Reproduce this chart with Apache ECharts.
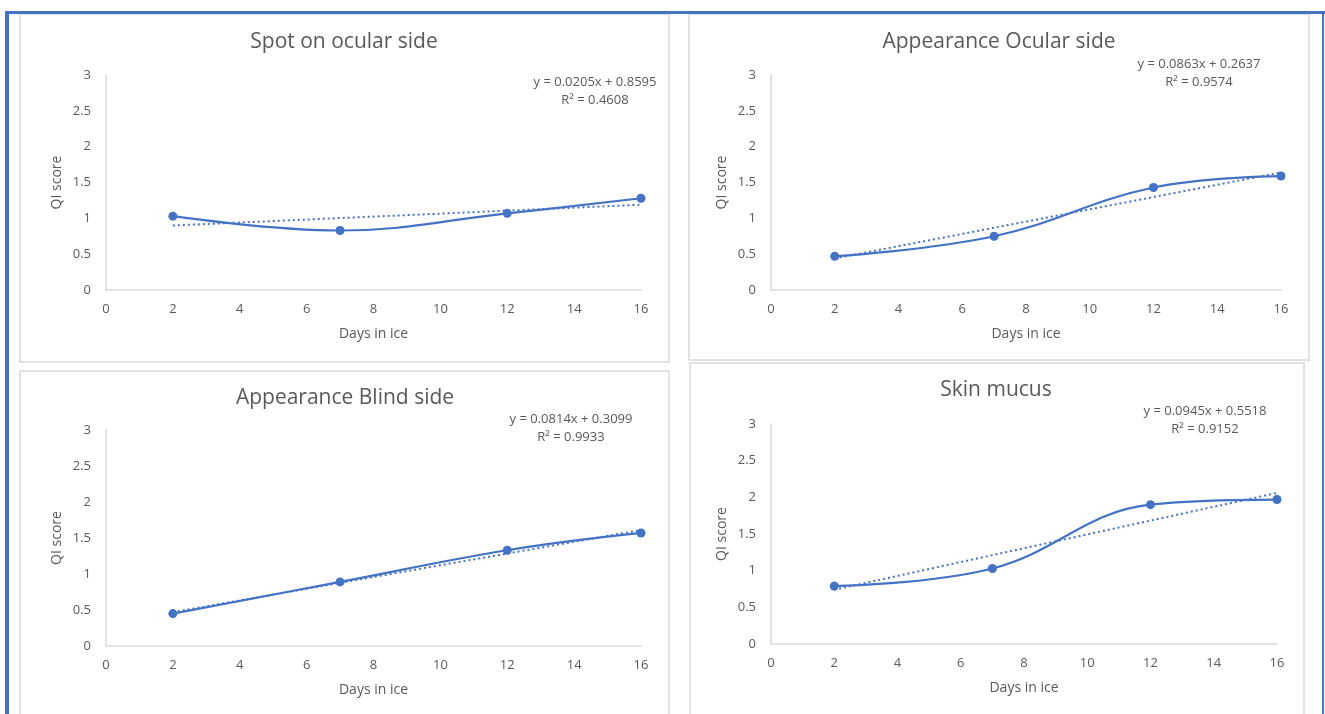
<!DOCTYPE html>
<html>
<head>
<meta charset="utf-8">
<script src="https://cdn.jsdelivr.net/npm/echarts@6/dist/echarts.min.js"></script>
<style>
html,body{margin:0;padding:0;background:#fff;}
#c{width:1325px;height:714px;}
</style>
</head>
<body>
<div id="c"></div>
<script>
// ---- data ----
const days = [2, 7, 12, 16];
const titles = ["Spot on ocular side", "Appearance Ocular side", "Appearance Blind side", "Skin mucus"];
const spotOcular = [1.03, 0.83, 1.07, 1.28];
const appearOcular = [0.47, 0.75, 1.43, 1.59];
const appearBlind = [0.45, 0.89, 1.33, 1.57];
const skinMucus = [0.79, 1.03, 1.90, 1.97];
const trendX = [2, 16];
const trendSpot = [0.90, 1.19];
const trendAppOcular = [0.44, 1.64];
const trendAppBlind = [0.47, 1.61];
const trendSkin = [0.74, 2.06];
const equations = ["y = 0.0205x + 0.8595", "y = 0.0863x + 0.2637", "y = 0.0814x + 0.3099", "y = 0.0945x + 0.5518"];
const r2 = ["R² = 0.4608", "R² = 0.9574", "R² = 0.9933", "R² = 0.9152"];
const xTitle = "Days in ice";
const yTitle = "QI score";

const seriesVals = [spotOcular, appearOcular, appearBlind, skinMucus];
const trendVals = [trendSpot, trendAppOcular, trendAppBlind, trendSkin];

// ---- layout ----
const panels = [
  {box:[20,14,649,348], grid:[106,75,535,215], title:[344,32], eq:[595,73]},
  {box:[689,14,620,346], grid:[771,75,510,215], title:[999,32], eq:[1199,55]},
  {box:[20,371,649,350], grid:[106,430,535,216], title:[345,388], eq:[571,410]},
  {box:[690,363,614,360], grid:[771,424,506,220], title:[996,380], eq:[1205,402]}
];

const FONT = "'Open Sans', 'Noto Sans', sans-serif";
const TXT = '#595959';
const BLUE = '#4472C4';

const option = {
  animation:false,
  backgroundColor:'#fff',
  title:[], grid:[], xAxis:[], yAxis:[], series:[], graphic:[]
};

// frame
option.graphic.push({type:'rect', shape:{x:5,y:11,width:4,height:703}, style:{fill:BLUE}, silent:true});
option.graphic.push({type:'rect', shape:{x:5,y:11,width:1320,height:3}, style:{fill:BLUE}, silent:true});
option.graphic.push({type:'rect', shape:{x:1322,y:11,width:2,height:703}, style:{fill:BLUE}, silent:true});

panels.forEach((p,i)=>{
  option.graphic.push({type:'rect', z:-1, shape:{x:p.box[0],y:p.box[1],width:p.box[2],height:p.box[3]},
    style:{fill:'#fff', stroke:'#d9d9d9', lineWidth:1.5}, silent:true});
  option.graphic.push({type:'text', x:p.title[0], y:p.title[1],
    style:{text:titles[i], fill:TXT, font:'21px '+FONT, textAlign:'center', textVerticalAlign:'top'}});
  option.graphic.push({type:'text', x:p.eq[0], y:p.eq[1],
    style:{text:equations[i]+'\n'+r2[i], fill:TXT, font:'13px '+FONT, textAlign:'center', textVerticalAlign:'top', lineHeight:18}});
  option.grid.push({left:p.grid[0], top:p.grid[1], width:p.grid[2], height:p.grid[3], containLabel:false});
  option.xAxis.push({type:'value', gridIndex:i, min:0, max:16, interval:2,
    name:xTitle, nameLocation:'middle', nameGap:37,
    nameTextStyle:{color:TXT, fontSize:14, fontFamily:FONT},
    axisLine:{show:true, lineStyle:{color:'#d9d9d9', width:1.5}},
    axisTick:{show:false}, splitLine:{show:false},
    axisLabel:{color:TXT, fontSize:13, fontFamily:FONT, margin:13}});
  option.yAxis.push({type:'value', gridIndex:i, min:0, max:3, interval:0.5,
    name:yTitle, nameLocation:'middle', nameGap:42,
    nameTextStyle:{color:TXT, fontSize:14, fontFamily:FONT},
    axisLine:{show:true, lineStyle:{color:'#d9d9d9', width:1.5}},
    axisTick:{show:false}, splitLine:{show:false},
    axisLabel:{color:TXT, fontSize:13, fontFamily:FONT, margin:15}});
  option.series.push({type:'line', xAxisIndex:i, yAxisIndex:i,
    data: trendX.map((x,k)=>[x, trendVals[i][k]]),
    symbol:'none', lineStyle:{color:BLUE, width:2, type:[2,3]}, z:2});
  option.series.push({type:'line', xAxisIndex:i, yAxisIndex:i,
    data: days.map((x,k)=>[x, seriesVals[i][k]]),
    smooth:0.4, symbol:'circle', symbolSize:9,
    itemStyle:{color:BLUE}, lineStyle:{color:BLUE, width:2.2}, z:3});
});

const chart = echarts.init(document.getElementById('c'), null, {renderer:'canvas'});
chart.setOption(option);
</script>
</body>
</html>
